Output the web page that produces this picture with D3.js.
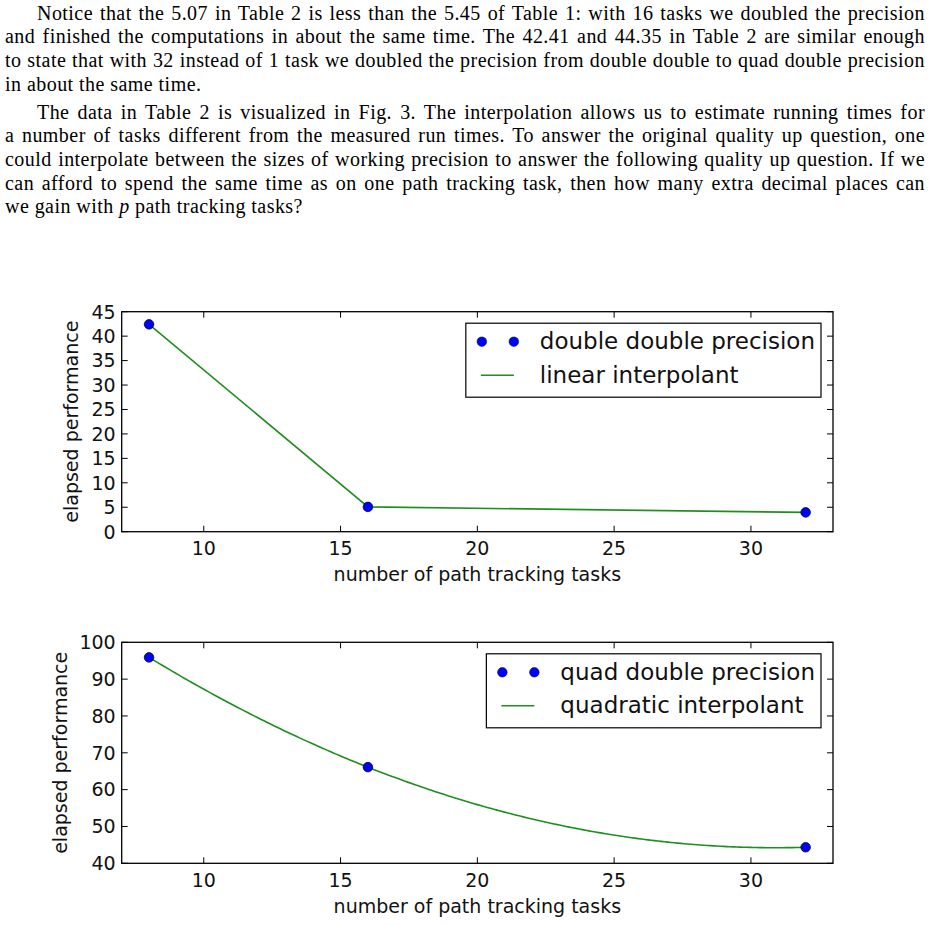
<!DOCTYPE html>
<html>
<head>
<meta charset="utf-8">
<script src="https://cdn.jsdelivr.net/npm/d3@7"></script>
<style>
  html, body { margin: 0; padding: 0; background: #fff; }
  svg { display: block; }
</style>
</head>
<body>
<svg id="page" width="930" height="925"></svg>
<script>
// ---------- data ----------
const tasks = [8, 16, 32];
const doubleDoubleValues = [42.41, 5.07, 3.95];
const quadDoubleValues = [95.9, 66.1, 44.35];
const xTicks = [10, 15, 20, 25, 30];
const yTicksTop = [0, 5, 10, 15, 20, 25, 30, 35, 40, 45];
const yTicksBottom = [40, 50, 60, 70, 80, 90, 100];
const legendTop = ["double double precision", "linear interpolant"];
const legendBottom = ["quad double precision", "quadratic interpolant"];
const xLabel = "number of path tracking tasks";
const yLabel = "elapsed performance";

const paragraph1 = [
  "Notice that the 5.07 in Table 2 is less than the 5.45 of Table 1: with 16 tasks we doubled the precision",
  "and finished the computations in about the same time. The 42.41 and 44.35 in Table 2 are similar enough",
  "to state that with 32 instead of 1 task we doubled the precision from double double to quad double precision",
  "in about the same time."
];
const paragraph2 = [
  "The data in Table 2 is visualized in Fig. 3. The interpolation allows us to estimate running times for",
  "a number of tasks different from the measured run times. To answer the original quality up question, one",
  "could interpolate between the sizes of working precision to answer the following quality up question. If we",
  "can afford to spend the same time as on one path tracking task, then how many extra decimal places can",
  ["we gain with ", "p", " path tracking tasks?"]
];

const svg = d3.select("#page");

// ---------- text paragraphs ----------
const textLeft = 5, textRight = 925, indent = 32;
const serif = "'Liberation Serif', 'Times New Roman', serif";
function drawParagraph(lines, baseline0) {
  lines.forEach((ln, i) => {
    const x = textLeft + (i === 0 ? indent : 0);
    const y = baseline0 + i * 23.7;
    const t = svg.append("text")
      .attr("x", x).attr("y", y)
      .attr("font-family", serif).attr("font-size", 20)
      .attr("letter-spacing", 0.45)
      .attr("fill", "#000");
    if (Array.isArray(ln)) {
      t.append("tspan").text(ln[0]);
      t.append("tspan").attr("font-style", "italic").text(ln[1]);
      t.append("tspan").text(ln[2]);
    } else {
      t.text(ln);
      if (i < lines.length - 1) {
        const len = t.node().getComputedTextLength();
        const spaces = (ln.match(/ /g) || []).length;
        const ws = (textRight - x - len) / spaces;
        t.attr("word-spacing", ws);
      }
    }
  });
}
drawParagraph(paragraph1, 19.5);
drawParagraph(paragraph2, 118.5);

// ---------- charts ----------
const sans = "'DejaVu Sans', 'Bitstream Vera Sans', sans-serif";
const axLeft = 121.7, axRight = 833;
const x = d3.scaleLinear().domain([7, 33]).range([axLeft, axRight]);

// quadratic interpolant through the three measured points (Lagrange form)
function quadraticThrough(xs, ys) {
  return t => ys.reduce((s, yi, i) => {
    let w = 1;
    xs.forEach((xj, j) => { if (j !== i) w *= (t - xj) / (xs[i] - xj); });
    return s + yi * w;
  }, 0);
}

const panels = [
  { top: 311.7, bottom: 531.7, domain: [0, 45], ticks: yTicksTop, values: doubleDoubleValues,
    kind: "linear", legend: legendTop, yLabelX: 78 },
  { top: 642.3, bottom: 863.3, domain: [40, 100], ticks: yTicksBottom, values: quadDoubleValues,
    kind: "quadratic", legend: legendBottom, yLabelX: 67 }
];

const lineColor = "#1e8f1e";
const tickLen = 6;

panels.forEach(p => {
  const y = d3.scaleLinear().domain(p.domain).range([p.bottom, p.top]);
  const g = svg.append("g");

  // data / interpolant line
  const pts = tasks.map((t, i) => [t, p.values[i]]);
  let linePts = pts;
  if (p.kind === "quadratic") {
    const f = quadraticThrough(tasks, p.values);
    const [lo, hi] = d3.extent(tasks);
    linePts = d3.range(lo, hi + 1e-9, (hi - lo) / 200).map(t => [t, f(t)]);
  }
  g.append("path")
    .attr("d", d3.line().x(d => x(d[0])).y(d => y(d[1]))(linePts))
    .attr("fill", "none").attr("stroke", lineColor).attr("stroke-width", 1.6);

  // markers
  g.selectAll("circle.pt").data(pts).enter().append("circle")
    .attr("cx", d => x(d[0])).attr("cy", d => y(d[1])).attr("r", 4.8)
    .attr("fill", "#0000ff").attr("stroke", "#000").attr("stroke-width", 0.7);

  // ticks (inward, all four sides)
  const tg = g.append("g").attr("stroke", "#000").attr("stroke-width", 1);
  xTicks.forEach(v => {
    tg.append("line").attr("x1", x(v)).attr("x2", x(v)).attr("y1", p.bottom).attr("y2", p.bottom - tickLen);
    tg.append("line").attr("x1", x(v)).attr("x2", x(v)).attr("y1", p.top).attr("y2", p.top + tickLen);
  });
  p.ticks.forEach(v => {
    tg.append("line").attr("x1", axLeft).attr("x2", axLeft + tickLen).attr("y1", y(v)).attr("y2", y(v));
    tg.append("line").attr("x1", axRight).attr("x2", axRight - tickLen).attr("y1", y(v)).attr("y2", y(v));
  });

  // frame
  g.append("rect")
    .attr("x", axLeft).attr("y", p.top)
    .attr("width", axRight - axLeft).attr("height", p.bottom - p.top)
    .attr("fill", "none").attr("stroke", "#000").attr("stroke-width", 1.3);

  // tick labels
  xTicks.forEach(v => {
    g.append("text").attr("x", x(v)).attr("y", p.bottom + 23.5)
      .attr("text-anchor", "middle").attr("font-family", sans).attr("font-size", 19)
      .attr("fill", "#111").text(v);
  });
  p.ticks.forEach(v => {
    g.append("text").attr("x", axLeft - 6).attr("y", y(v)).attr("dy", "0.36em")
      .attr("text-anchor", "end").attr("font-family", sans).attr("font-size", 19)
      .attr("fill", "#111").text(v);
  });

  // axis labels
  g.append("text").attr("x", (axLeft + axRight) / 2).attr("y", p.bottom + 49.5)
    .attr("text-anchor", "middle").attr("font-family", sans).attr("font-size", 19)
    .attr("fill", "#111").text(xLabel);
  g.append("text")
    .attr("transform", `translate(${p.yLabelX},${(p.top + p.bottom) / 2}) rotate(-90)`)
    .attr("text-anchor", "middle").attr("font-family", sans).attr("font-size", 19)
    .attr("fill", "#111").text(yLabel);

  // legend
  const lg = g.append("g");
  const texts = p.legend.map((s, i) => lg.append("text")
    .attr("y", 0).attr("font-family", sans).attr("font-size", 23).attr("fill", "#111").text(s));
  const maxW = d3.max(texts, t => t.node().getComputedTextLength());
  const boxW = 74 + maxW + 6, boxH = 74;
  const bx = axRight - 12 - boxW, by = p.top + 11.5;
  lg.insert("rect", "text")
    .attr("x", bx).attr("y", by).attr("width", boxW).attr("height", boxH)
    .attr("fill", "#fff").attr("stroke", "#000").attr("stroke-width", 1.2);
  texts.forEach((t, i) => t.attr("x", bx + 74).attr("y", by + 26 + i * 33.5));
  [16, 48].forEach(dx => {
    lg.append("circle").attr("cx", bx + dx).attr("cy", by + 18.5).attr("r", 4.8)
      .attr("fill", "#0000ff").attr("stroke", "#000").attr("stroke-width", 0.5);
  });
  lg.append("line").attr("x1", bx + 15).attr("x2", bx + 48)
    .attr("y1", by + 52).attr("y2", by + 52)
    .attr("stroke", lineColor).attr("stroke-width", 1.6);
});
</script>
</body>
</html>
